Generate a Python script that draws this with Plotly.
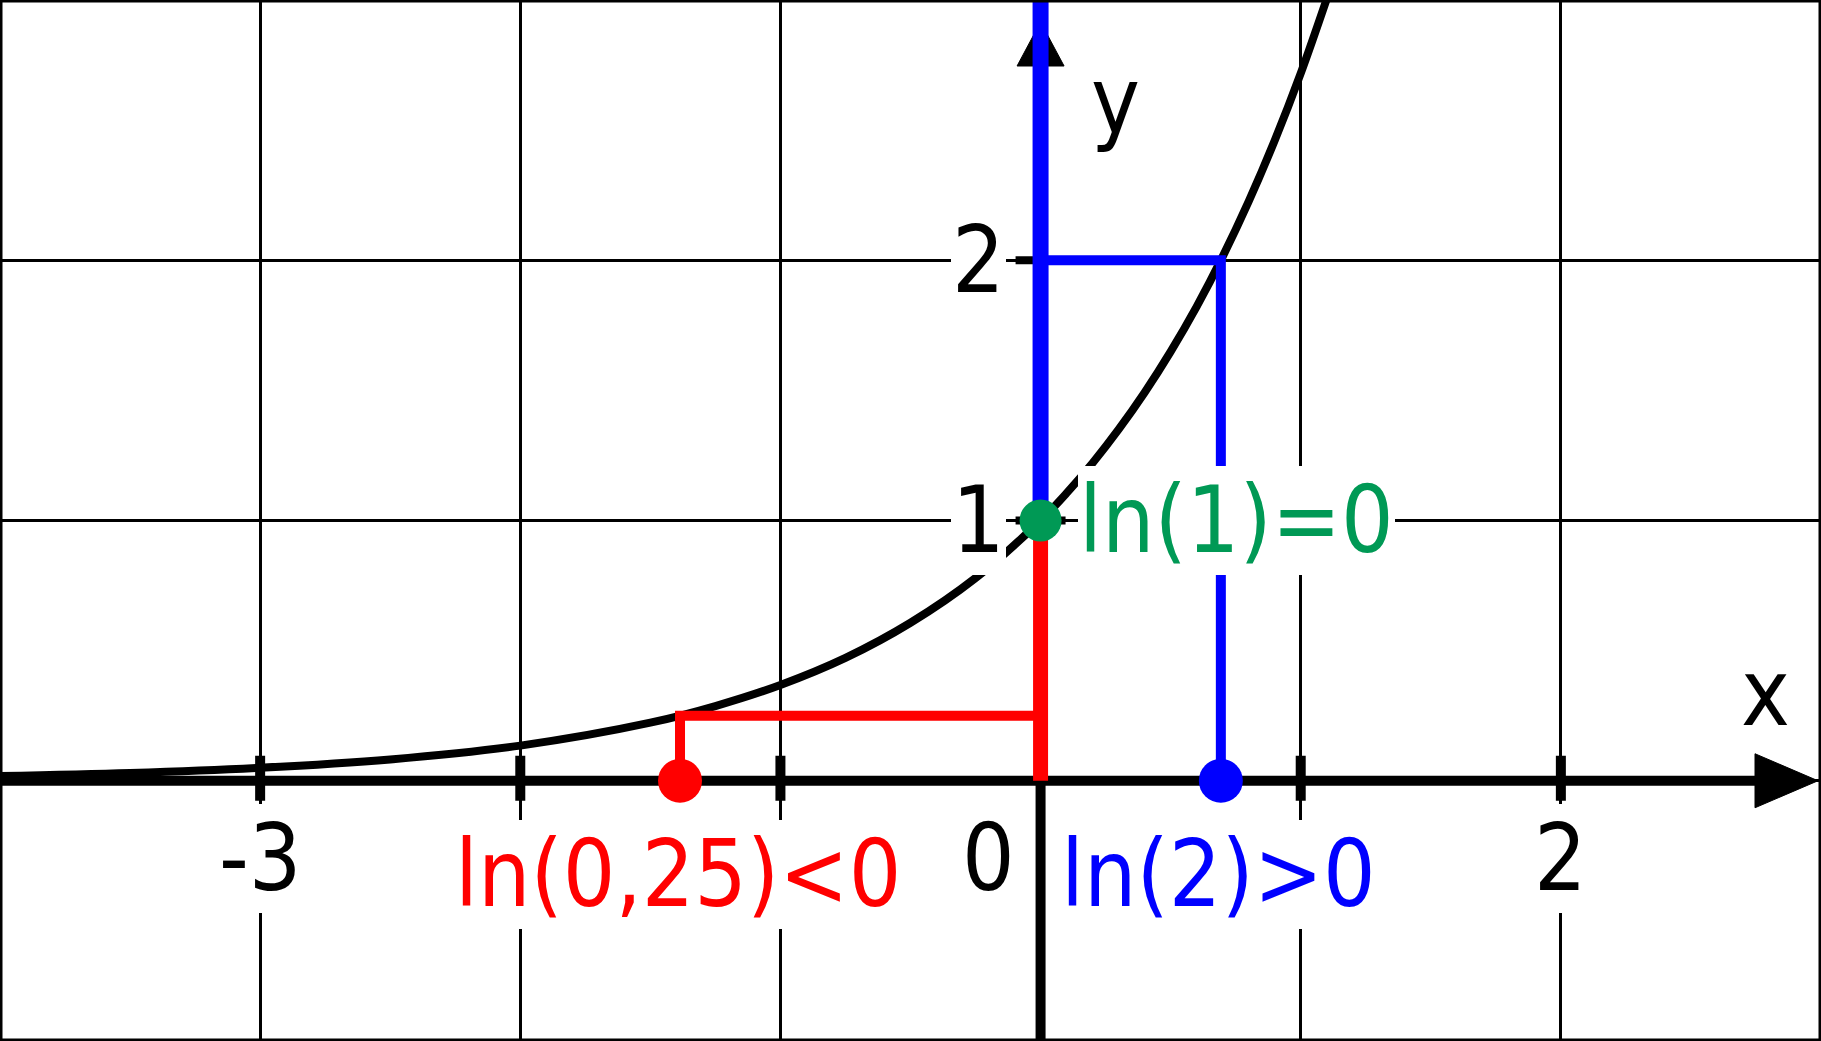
import plotly.graph_objects as go

# ---------------- data ----------------
X_RANGE = [-4, 3]
Y_RANGE = [-1, 3]
W, H = 1821, 1041

# graph of y = e^x
curve_x = [-4.0, -3.5, -3.0, -2.5, -2.0, -1.5, -1.25, -1.0, -0.75, -0.5, -0.25,
           0.0, 0.1, 0.2, 0.3, 0.4, 0.5, 0.6, 0.7, 0.8, 0.9, 1.0, 1.1]
curve_y = [0.018, 0.030, 0.050, 0.082, 0.135, 0.223, 0.287, 0.368, 0.472, 0.607, 0.779,
           1.0, 1.105, 1.221, 1.350, 1.492, 1.649, 1.822, 2.014, 2.226, 2.460, 2.718, 3.004]

x_tick_values = [-3, -2, -1, 1, 2]
y_tick_values = [1, 2]
x_tick_labels = ["-3", "0", "2"]
x_tick_label_x = [-3, -0.2, 2]
y_tick_labels = ["1", "2"]
y_tick_label_y = [1, 2]

red_x, red_y = -1.386, 0.25     # ln(0,25)
blue_x, blue_y = 0.693, 2.0     # ln(2)
green_x, green_y = 0.0, 1.0     # ln(1)

label_texts = ["ln(0,25)<0", "ln(2)>0", "ln(1)=0"]
axis_names = ["x", "y"]

# ---------------- style ----------------
RED = "#ff0000"
BLUE = "#0000ff"
GREEN = "#009955"
BLACK = "#000000"
FONT = "DejaVu Sans Condensed, DejaVu Sans, sans-serif"
FS = 92

dxp = (X_RANGE[1] - X_RANGE[0]) / W   # data units per pixel
dyp = (Y_RANGE[1] - Y_RANGE[0]) / H

fig = go.Figure()


def line(xs, ys, color, width):
    fig.add_trace(go.Scatter(x=xs, y=ys, mode="lines",
                             line=dict(color=color, width=width),
                             hoverinfo="skip", showlegend=False))


# curve
fig.add_trace(go.Scatter(x=curve_x, y=curve_y, mode="lines", line_shape="spline",
                         line=dict(color=BLACK, width=8), hoverinfo="skip", showlegend=False))

# x axis with arrow
ax_tip = X_RANGE[1] - 3 * dxp
ax_base = ax_tip - 63 * dxp
line([X_RANGE[0], ax_base], [0, 0], BLACK, 10)
fig.add_trace(go.Scatter(x=[ax_base, ax_tip, ax_base, ax_base],
                         y=[27 * dyp, 0, -27 * dyp, 27 * dyp],
                         mode="lines", fill="toself", fillcolor=BLACK,
                         line=dict(color=BLACK, width=1), hoverinfo="skip", showlegend=False))
# x ticks
tx, ty = [], []
for v in x_tick_values:
    tx += [v, v, None]
    ty += [25 * dyp, -20 * dyp, None]
line(tx, ty, BLACK, 10)

# y axis with arrow
ay_tip = Y_RANGE[1] - 22 * dyp
ay_base = ay_tip - 44 * dyp
line([0, 0], [Y_RANGE[0], ay_base], BLACK, 10)
fig.add_trace(go.Scatter(x=[-23.5 * dxp, 0, 23.5 * dxp, -23.5 * dxp],
                         y=[ay_base, ay_tip, ay_base, ay_base],
                         mode="lines", fill="toself", fillcolor=BLACK,
                         line=dict(color=BLACK, width=1), hoverinfo="skip", showlegend=False))
# y ticks
sx, sy = [], []
for v in y_tick_values:
    sx += [-25 * dxp, 25 * dxp, None]
    sy += [v, v, None]
line(sx, sy, BLACK, 8)

# red construction
line([0, 0], [0, green_y], RED, 15)
line([0, red_x, red_x], [red_y, red_y, 0], RED, 10)
fig.add_trace(go.Scatter(x=[red_x], y=[0], mode="markers",
                         marker=dict(color=RED, size=44), hoverinfo="skip", showlegend=False))

# blue construction
line([0, 0], [green_y, Y_RANGE[1]], BLUE, 16)
line([0, blue_x, blue_x], [blue_y, blue_y, 0], BLUE, 10)
fig.add_trace(go.Scatter(x=[blue_x], y=[0], mode="markers",
                         marker=dict(color=BLUE, size=44), hoverinfo="skip", showlegend=False))

# green point
fig.add_trace(go.Scatter(x=[green_x], y=[green_y], mode="markers",
                         marker=dict(color=GREEN, size=42), hoverinfo="skip", showlegend=False))

# ---------------- annotations ----------------
ann = []


def label(text, x, y, color, xanchor="center"):
    ann.append(dict(text=text, x=x, y=y, xref="x", yref="y", showarrow=False,
                    xanchor=xanchor, yanchor="middle",
                    font=dict(family=FONT, size=FS, color=color),
                    bgcolor="white", borderpad=1, borderwidth=0))


for t, xv in zip(x_tick_labels, x_tick_label_x):
    label(t, xv, -0.298, BLACK)
for t, yv in zip(y_tick_labels, y_tick_label_y):
    label(t, -0.24, yv, BLACK)

label(label_texts[0], red_x - 0.006, -0.36, RED)
label(label_texts[1], blue_x - 0.01, -0.36, BLUE)
label(label_texts[2], green_x + 0.145, green_y, GREEN, xanchor="left")

ann.append(dict(text=axis_names[0], x=2.786, y=0.336, xref="x", yref="y", showarrow=False,
                font=dict(family=FONT, size=FS, color=BLACK)))
ann.append(dict(text=axis_names[1], x=0.288, y=2.61, xref="x", yref="y", showarrow=False,
                font=dict(family=FONT, size=FS, color=BLACK)))

axis_common = dict(showgrid=True, gridcolor=BLACK, gridwidth=2.5, dtick=1, tick0=0,
                   zeroline=False, showticklabels=False, ticks="", showline=False,
                   fixedrange=True)

fig.update_layout(
    width=W, height=H, autosize=False,
    margin=dict(l=0, r=0, t=0, b=0, pad=0),
    paper_bgcolor="white", plot_bgcolor="white",
    xaxis=dict(range=X_RANGE, **axis_common),
    yaxis=dict(range=Y_RANGE, **axis_common),
    annotations=ann,
    shapes=[dict(type="rect", xref="paper", yref="paper", x0=0, x1=1, y0=0, y1=1,
                 line=dict(color=BLACK, width=5), layer="above")],
    showlegend=False,
)

fig.write_html("out.html", config={"displayModeBar": False},
               post_script="document.body.style.margin='0px';document.body.style.overflow='hidden';")
